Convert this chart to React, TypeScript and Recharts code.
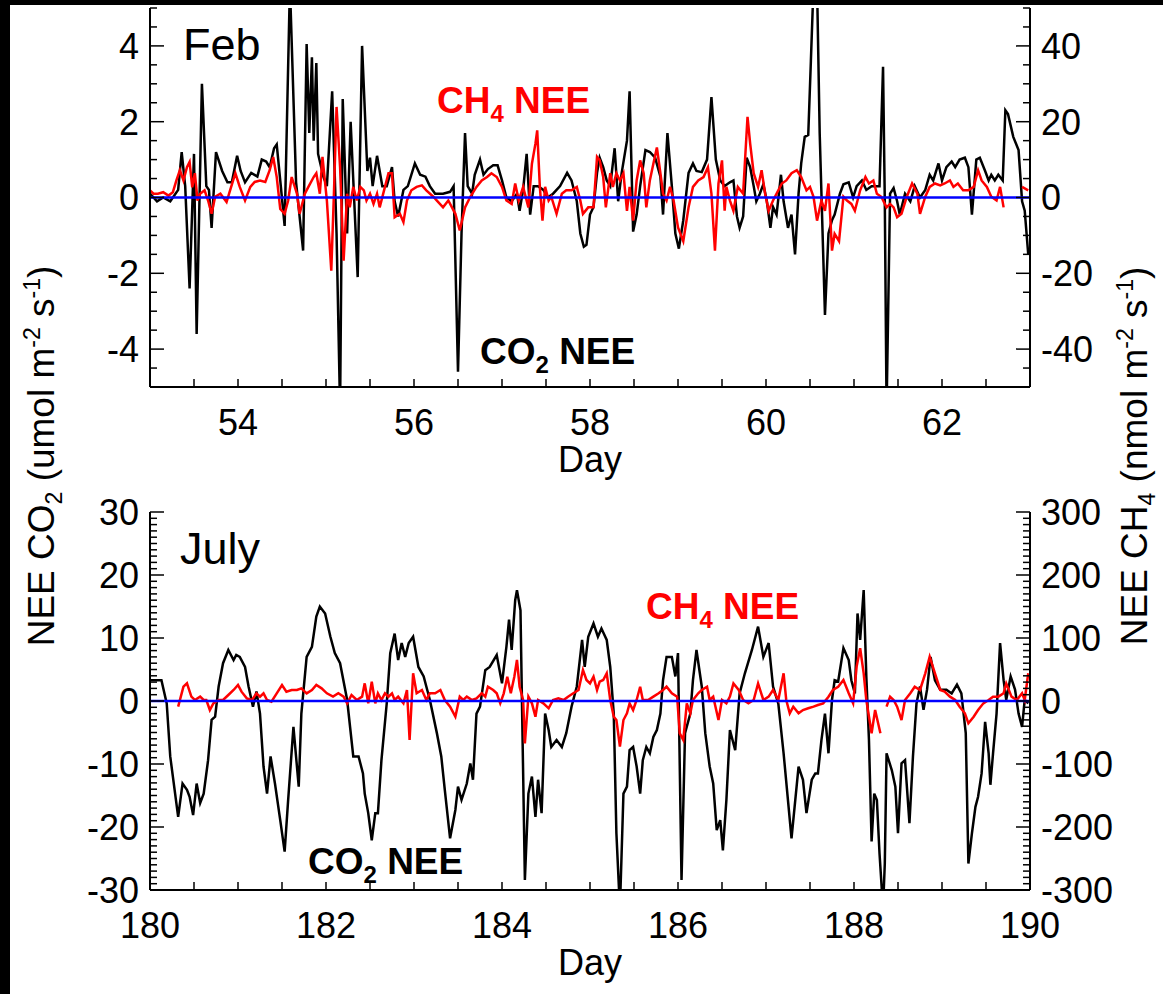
import { LineChart, Line, XAxis, YAxis, ReferenceLine, Label } from 'recharts'

type Pt = [number, number | null]

// tick labels
const febDayLabels = [54, 56, 58, 60, 62]
const julDayLabels = [180, 182, 184, 186, 188, 190]
const febCo2Labels = [-4, -2, 0, 2, 4]
const febCh4Labels = [-40, -20, 0, 20, 40]
const julCo2Labels = [-30, -20, -10, 0, 10, 20, 30]
const julCh4Labels = [-300, -200, -100, 0, 100, 200, 300]

// Feb — CO2 NEE (umol m-2 s-1), [day, value]
const febCo2: Pt[] = [
  [53.0, 0.1], [53.08, -0.1], [53.15, 0.0], [53.23, -0.1], [53.32, 0.2], [53.36, 1.2], [53.4, 0.3], [53.45, -2.4],
  [53.5, 1.15], [53.53, -3.6], [53.59, 3.0], [53.64, 0.3], [53.67, 0.2], [53.7, -0.8], [53.75, 1.2], [53.82, 0.7],
  [53.88, 0.4], [53.93, 0.4], [53.99, 1.1], [54.03, 0.7], [54.08, 0.4], [54.15, 0.65], [54.22, 0.55], [54.27, 1.0],
  [54.32, 0.95], [54.36, 0.8], [54.41, 1.3], [54.44, 1.4], [54.48, 0.45], [54.53, -0.75], [54.59, 5.6], [54.66, 0.4],
  [54.74, -1.4], [54.78, 4.05], [54.81, 1.7], [54.84, 3.7], [54.86, 1.5], [54.89, 3.55], [54.91, 1.15], [54.97, 0.55],
  [55.01, 0.3], [55.07, 2.8], [55.12, -0.95], [55.16, -5.6], [55.19, 2.6], [55.24, -0.95], [55.28, 2.0], [55.36, -2.1],
  [55.41, 4.0], [55.47, 0.7], [55.5, 1.05], [55.53, 0.3], [55.58, 1.1], [55.64, 0.3], [55.69, 0.3], [55.75, 0.8],
  [55.78, -0.1], [55.82, -0.5], [55.88, 0.2], [55.93, 0.3], [56.01, 0.9], [56.07, 0.6], [56.13, 0.55], [56.18, 0.3],
  [56.24, 0.1], [56.33, 0.1], [56.41, 0.15], [56.45, 0.3], [56.5, -4.6], [56.54, -0.95], [56.58, 1.7], [56.61, 0.3],
  [56.66, 0.1], [56.69, 0.6], [56.75, 1.0], [56.79, 0.6], [56.84, 0.75], [56.9, 0.85], [56.95, 0.85], [57.0, 0.45],
  [57.05, 0.0], [57.11, -0.1], [57.17, 0.1], [57.2, -0.35], [57.24, 0.2], [57.28, 1.15], [57.32, -0.45], [57.36, 0.3],
  [57.41, 0.3], [57.47, 0.2], [57.52, 0.0], [57.58, 0.1], [57.66, 0.3], [57.74, 0.65], [57.79, 0.45], [57.85, -0.1],
  [57.89, -0.95], [57.93, -1.3], [57.96, -1.25], [58.0, -0.45], [58.04, -0.25], [58.08, 0.65], [58.11, 1.05], [58.15, 0.8],
  [58.19, 0.45], [58.23, 0.3], [58.28, 1.3], [58.32, -0.1], [58.36, 0.65], [58.42, 1.5], [58.45, 2.8], [58.49, -0.9],
  [58.53, -0.45], [58.57, 0.3], [58.63, 1.25], [58.68, 1.2], [58.74, 1.05], [58.8, 0.55], [58.83, -0.45], [58.88, 1.7],
  [58.93, 0.3], [58.97, -0.95], [59.01, -1.35], [59.06, -0.6], [59.12, 0.65], [59.17, 0.9], [59.21, 0.7], [59.27, 0.67],
  [59.33, 1.0], [59.38, 2.65], [59.43, 1.0], [59.48, 0.45], [59.53, 0.3], [59.59, 0.4], [59.63, 0.45], [59.67, -0.5],
  [59.7, -0.8], [59.74, -0.5], [59.78, 1.05], [59.82, 0.8], [59.86, 0.3], [59.89, -0.1], [59.93, 0.1], [59.97, 0.35],
  [60.01, -0.1], [60.05, -0.8], [60.08, -0.25], [60.12, -0.45], [60.17, 0.6], [60.2, -0.1], [60.25, -0.8], [60.29, -0.45],
  [60.33, -1.5], [60.37, 0.1], [60.4, 0.9], [60.44, 1.6], [60.48, 1.65], [60.51, 3.6], [60.54, 5.6], [60.58, 5.6],
  [60.61, 1.7], [60.67, -3.1], [60.71, -0.95], [60.75, -0.6], [60.78, -0.45], [60.84, 0.1], [60.88, 0.35], [60.94, 0.4],
  [60.99, 0.0], [61.03, 0.3], [61.09, 0.45], [61.14, 0.2], [61.2, 0.3], [61.26, 0.3], [61.29, 0.3], [61.33, 3.45],
  [61.35, -0.1], [61.37, -5.6], [61.41, 0.1], [61.45, 0.25], [61.49, -0.1], [61.52, -0.45], [61.58, 0.1], [61.64, -0.1],
  [61.69, 0.3], [61.75, 0.0], [61.81, 0.2], [61.86, 0.6], [61.9, 0.45], [61.96, 0.9], [62.0, 0.45], [62.05, 0.8],
  [62.11, 0.95], [62.15, 0.8], [62.2, 1.0], [62.26, 1.05], [62.3, 0.8], [62.34, -0.45], [62.39, 1.0], [62.43, 1.05],
  [62.49, 0.7], [62.53, 0.45], [62.56, 0.6], [62.6, 0.45], [62.64, 0.6], [62.69, 0.45], [62.72, 2.3], [62.75, 2.2],
  [62.81, 1.6], [62.87, 1.25], [62.91, -0.1], [62.94, -0.35], [62.98, -1.5],
]

// Feb — CH4 NEE (nmol m-2 s-1)
const febCh4: Pt[] = [
  [53.0, 1.9], [53.04, 1.0], [53.09, 1.0], [53.15, 1.4], [53.21, 0.5], [53.26, 1.4], [53.3, 4.5], [53.34, 7.2],
  [53.38, 4.5], [53.42, 8.0], [53.45, 9.4], [53.48, 2.7], [53.51, 6.4], [53.54, -0.8], [53.57, 1.0], [53.62, 1.9],
  [53.66, -0.8], [53.7, -4.3], [53.74, 0.2], [53.8, 1.0], [53.87, -1.2], [53.91, 1.9], [53.97, 6.4], [54.02, 2.8],
  [54.08, -0.8], [54.14, 2.8], [54.19, 4.1], [54.25, 4.5], [54.31, 4.1], [54.36, 7.2], [54.4, 10.7], [54.44, 5.4],
  [54.48, -3.0], [54.53, -4.3], [54.57, -0.8], [54.61, 5.4], [54.67, 1.0], [54.7, -4.3], [54.76, 1.0], [54.8, 2.8],
  [54.86, 5.4], [54.89, 6.4], [54.93, 1.0], [54.96, 10.7], [55.01, -0.8], [55.06, -19.3], [55.09, 1.0], [55.12, 23.9],
  [55.16, 8.0], [55.2, -16.7], [55.24, 1.0], [55.27, -2.6], [55.31, 2.8], [55.35, -0.8], [55.39, 2.8], [55.43, 1.9],
  [55.46, -0.8], [55.5, 1.0], [55.54, -1.7], [55.58, 1.0], [55.61, -2.6], [55.67, 2.8], [55.71, 6.4], [55.75, 6.4],
  [55.78, -5.2], [55.84, -4.3], [55.88, -6.5], [55.92, -0.8], [55.97, 1.9], [56.03, 2.8], [56.09, 3.2], [56.14, 1.9],
  [56.22, 0.2], [56.26, -0.8], [56.33, -2.6], [56.39, -0.8], [56.47, -4.3], [56.52, -8.7], [56.58, -2.6], [56.64, 0.2],
  [56.71, 2.8], [56.77, 4.5], [56.83, 5.4], [56.88, 6.4], [56.94, 5.4], [57.0, 2.8], [57.05, -0.8], [57.11, -1.7],
  [57.15, 3.7], [57.19, -0.8], [57.24, 2.8], [57.3, -2.6], [57.34, 8.9], [57.38, 14.2], [57.4, 17.7], [57.43, 2.8],
  [57.46, -6.1], [57.49, 2.8], [57.53, -0.8], [57.56, 0.2], [57.62, -4.3], [57.68, 1.0], [57.73, 1.9], [57.79, 1.9],
  [57.85, 2.8], [57.89, -0.8], [57.92, -4.3], [57.98, -2.6], [58.04, -2.6], [58.08, 10.7], [58.11, 9.8], [58.15, 5.4],
  [58.18, -2.6], [58.23, 6.4], [58.26, 2.8], [58.3, 6.4], [58.34, 4.5], [58.38, 6.4], [58.42, -3.5], [58.45, 2.8],
  [58.49, -6.1], [58.53, 4.5], [58.57, 9.8], [58.61, 6.4], [58.64, -2.6], [58.68, 4.5], [58.72, 8.9], [58.76, 13.2],
  [58.8, 6.4], [58.83, 1.0], [58.87, -0.8], [58.91, 2.8], [58.95, -0.8], [59.0, -7.9], [59.06, -11.5], [59.12, -2.6],
  [59.17, 2.8], [59.23, 4.5], [59.29, 5.4], [59.34, 8.0], [59.38, 1.0], [59.42, -14.0], [59.46, 3.7], [59.5, 9.8],
  [59.53, -3.5], [59.55, 2.8], [59.59, -0.8], [59.63, -3.5], [59.68, 2.8], [59.74, 1.0], [59.79, 21.3], [59.82, 14.2],
  [59.86, 6.4], [59.91, 2.8], [59.95, 7.2], [59.99, 1.0], [60.03, -3.5], [60.08, -0.8], [60.14, 1.9], [60.18, 3.7],
  [60.23, 4.5], [60.29, 6.4], [60.35, 7.2], [60.4, 5.4], [60.46, 1.9], [60.5, 2.8], [60.54, 0.2], [60.58, -6.1],
  [60.63, -0.8], [60.67, -3.5], [60.71, 3.7], [60.75, -14.0], [60.78, -9.6], [60.83, -11.5], [60.88, 0.2], [60.92, -0.8],
  [60.97, -1.7], [61.01, -3.5], [61.07, 1.9], [61.13, 5.4], [61.17, 3.7], [61.22, 4.5], [61.26, 1.0], [61.31, 0.2],
  [61.37, -2.6], [61.41, -1.7], [61.45, -2.6], [61.49, -5.2], [61.54, -4.3], [61.6, 0.2], [61.66, 3.7], [61.72, 1.0],
  [61.75, -4.3], [61.81, 0.2], [61.86, 2.8], [61.92, 3.7], [61.98, 3.2], [62.03, 3.7], [62.09, 4.5], [62.13, 2.8],
  [62.18, 3.7], [62.24, 1.9], [62.3, 1.9], [62.36, 2.8], [62.41, 7.2], [62.45, 4.5], [62.51, 2.8], [62.56, 0.2],
  [62.62, -0.8], [62.66, 2.8], [62.7, -2.6], [62.8, null], [62.91, 2.8], [62.98, 1.9],
]

// July — CO2 NEE (umol m-2 s-1)
const julCo2: Pt[] = [
  [180.0, 3.3], [180.13, 3.3], [180.19, -0.4], [180.23, -8.8], [180.26, -12.0], [180.32, -18.4], [180.37, -13.1], [180.42, -14.1],
  [180.45, -15.2], [180.49, -18.1], [180.53, -13.1], [180.57, -16.2], [180.61, -14.7], [180.66, -9.4], [180.7, -3.0], [180.74, -2.5],
  [180.78, 2.3], [180.83, 6.0], [180.89, 8.1], [180.95, 6.5], [180.98, 7.3], [181.02, 7.0], [181.08, 5.4], [181.12, 2.3],
  [181.17, -0.9], [181.21, 1.5], [181.25, -2.0], [181.29, -10.4], [181.33, -14.7], [181.37, -8.8], [181.42, -13.1], [181.48, -18.9],
  [181.53, -23.9], [181.57, -15.7], [181.63, -4.1], [181.69, -13.6], [181.72, -2.0], [181.78, 7.0], [181.84, 8.6], [181.89, 13.4],
  [181.93, 15.0], [181.99, 13.9], [182.05, 10.2], [182.1, 7.6], [182.16, 6.0], [182.24, 0.2], [182.31, -8.8], [182.37, -8.8],
  [182.42, -11.5], [182.44, -14.7], [182.48, -17.8], [182.52, -22.1], [182.56, -17.8], [182.59, -17.8], [182.63, -9.4], [182.69, -0.4],
  [182.73, 7.6], [182.78, 10.7], [182.82, 6.5], [182.86, 9.2], [182.9, 7.0], [182.94, 9.2], [182.99, 10.2], [183.05, 5.4],
  [183.11, 3.9], [183.14, 2.3], [183.18, 0.2], [183.26, -5.1], [183.31, -8.8], [183.35, -14.1], [183.41, -21.8], [183.47, -17.3],
  [183.5, -13.6], [183.54, -15.7], [183.6, -13.1], [183.64, -9.9], [183.67, -12.5], [183.71, -2.0], [183.75, -0.9], [183.81, 4.9],
  [183.86, 5.4], [183.94, 7.3], [184.0, 2.8], [184.05, 8.6], [184.08, 12.9], [184.11, 8.1], [184.15, 16.0], [184.17, 17.6],
  [184.21, 14.4], [184.26, -28.4], [184.3, -14.7], [184.34, -12.0], [184.38, -18.4], [184.41, -12.5], [184.45, -17.8], [184.49, -2.0],
  [184.53, -4.6], [184.56, -7.3], [184.62, -6.2], [184.68, -7.3], [184.73, -5.1], [184.79, -0.9], [184.85, 2.3], [184.91, 9.7],
  [184.94, 5.4], [184.98, 10.2], [185.04, 12.3], [185.09, 10.2], [185.13, 11.5], [185.19, 9.7], [185.23, 5.4], [185.27, -2.0],
  [185.3, -21.0], [185.34, -33.0], [185.38, -14.7], [185.42, -13.6], [185.45, -7.8], [185.49, -7.3], [185.53, -10.4], [185.57, -14.7],
  [185.6, -9.4], [185.64, -7.3], [185.68, -8.3], [185.72, -5.7], [185.76, -4.6], [185.8, -2.0], [185.83, 3.3], [185.87, 7.0],
  [185.93, 7.0], [185.97, 3.9], [186.0, 7.6], [186.04, -28.4], [186.08, -5.1], [186.14, -2.0], [186.17, 3.3], [186.21, 8.1],
  [186.27, 2.3], [186.31, -5.1], [186.36, -10.4], [186.4, -13.1], [186.44, -20.5], [186.48, -18.9], [186.51, -23.7], [186.55, -15.7],
  [186.59, -4.6], [186.65, -7.8], [186.7, 1.2], [186.76, 4.4], [186.84, 8.1], [186.91, 11.8], [186.97, 7.0], [187.03, 9.2],
  [187.08, 2.3], [187.14, -0.4], [187.2, -8.3], [187.29, -21.8], [187.37, -10.4], [187.42, -12.5], [187.46, -17.8], [187.52, -12.5],
  [187.56, -11.5], [187.59, -11.5], [187.63, -6.2], [187.67, -2.0], [187.71, -8.3], [187.75, 0.2], [187.78, 3.3], [187.82, 3.1],
  [187.88, 8.4], [187.94, 6.5], [187.97, 3.3], [188.01, 1.2], [188.04, 13.9], [188.07, 9.7], [188.11, 17.6], [188.14, 3.9],
  [188.17, -6.2], [188.2, -22.3], [188.23, -14.7], [188.26, -15.7], [188.29, -24.2], [188.33, -33.0], [188.35, -25.8], [188.37, -8.3],
  [188.43, -11.0], [188.47, -13.6], [188.5, -21.0], [188.54, -9.9], [188.58, -9.4], [188.63, -19.4], [188.67, -8.8], [188.71, -0.4],
  [188.75, 2.3], [188.79, -1.4], [188.83, 1.8], [188.87, 7.0], [188.92, 3.3], [188.98, 1.8], [189.05, 1.8], [189.11, 1.2],
  [189.17, 2.6], [189.22, 1.2], [189.27, -5.1], [189.3, -25.8], [189.34, -21.0], [189.38, -16.8], [189.41, -15.2], [189.45, -11.5],
  [189.49, -3.3], [189.53, -8.3], [189.55, -13.3], [189.58, -8.3], [189.62, -2.0], [189.66, 9.2], [189.7, 3.3], [189.73, 0.2],
  [189.78, 3.9], [189.83, 1.8], [189.87, -2.0], [189.91, -4.1], [189.94, 0.2], [189.98, -0.4],
]

// July — CH4 NEE (nmol m-2 s-1)
const julCh4: Pt[] = [
  [180.32, -9.0], [180.38, 22.7], [180.42, 28.0], [180.47, 6.9], [180.51, 1.6], [180.57, 6.9], [180.61, 1.6], [180.64, 1.6],
  [180.68, -14.3], [180.72, -3.7], [180.78, 1.6], [180.83, 1.6], [180.89, 9.5], [180.95, 17.5], [181.0, 25.4], [181.04, 14.8],
  [181.1, 4.2], [181.16, 1.6], [181.21, 12.2], [181.25, 6.9], [181.29, 12.2], [181.33, 1.6], [181.38, -1.1], [181.44, 12.2],
  [181.5, 25.4], [181.55, 14.8], [181.61, 17.5], [181.67, 17.5], [181.72, 20.1], [181.78, 12.2], [181.84, 17.5], [181.89, 25.4],
  [181.95, 20.1], [182.01, 12.2], [182.08, 6.9], [182.14, 12.2], [182.2, 6.9], [182.24, -3.7], [182.29, 9.5], [182.35, 1.6],
  [182.41, 6.9], [182.44, 28.0], [182.48, -3.7], [182.52, 30.7], [182.56, -3.7], [182.59, 12.2], [182.63, 1.6], [182.67, 12.2],
  [182.71, 6.9], [182.75, 12.2], [182.78, 1.6], [182.82, 6.9], [182.88, -3.7], [182.92, 17.5], [182.95, -61.9], [182.99, 44.0],
  [183.03, 12.2], [183.09, 17.5], [183.14, 1.6], [183.18, 12.2], [183.24, 12.2], [183.3, 17.5], [183.35, 1.6], [183.41, -9.0],
  [183.47, -24.9], [183.52, 6.9], [183.56, 1.6], [183.6, 6.9], [183.66, 1.6], [183.71, 4.2], [183.77, 12.2], [183.81, 6.9],
  [183.84, 22.7], [183.9, 17.5], [183.94, 12.2], [183.98, -3.7], [184.02, 12.2], [184.06, 38.6], [184.1, 12.2], [184.14, 38.6],
  [184.17, 65.1], [184.2, 22.7], [184.24, 1.6], [184.26, -67.2], [184.3, 6.9], [184.34, -3.7], [184.38, -24.9], [184.41, 1.6],
  [184.47, -3.7], [184.53, -11.6], [184.58, 1.6], [184.64, 4.2], [184.7, 1.6], [184.75, 6.9], [184.81, 12.2], [184.87, 17.5],
  [184.92, 49.3], [184.96, 33.4], [185.0, 28.0], [185.04, 38.6], [185.08, 17.5], [185.11, 30.7], [185.15, 33.4], [185.19, 44.0],
  [185.23, 1.6], [185.27, -24.9], [185.3, -30.2], [185.34, -72.5], [185.38, -30.2], [185.42, -19.6], [185.45, -3.7], [185.49, -14.3],
  [185.53, 1.6], [185.57, 22.7], [185.6, 1.6], [185.66, 1.6], [185.72, 6.9], [185.78, 12.2], [185.83, 17.5], [185.87, 22.7],
  [185.93, 12.2], [185.99, 6.9], [186.02, -51.3], [186.06, -61.9], [186.1, -3.7], [186.14, -19.6], [186.17, 1.6], [186.23, 12.2],
  [186.27, 17.5], [186.33, 22.7], [186.36, 1.6], [186.4, 6.9], [186.46, -30.2], [186.5, 1.6], [186.55, -3.7], [186.59, 6.9],
  [186.63, 28.0], [186.69, 17.5], [186.74, 1.6], [186.8, -3.7], [186.86, 1.6], [186.91, 28.0], [186.97, 1.6], [187.03, 6.9],
  [187.08, 17.5], [187.14, 1.6], [187.2, 44.0], [187.23, 1.6], [187.27, -19.6], [187.31, -9.0], [187.37, -19.6], [187.42, -14.3],
  [187.48, -11.6], [187.54, -9.0], [187.59, -6.3], [187.65, -3.7], [187.71, 6.9], [187.76, 17.5], [187.82, 22.7], [187.88, 33.4],
  [187.94, 12.2], [187.99, -3.7], [188.03, 54.6], [188.07, 83.7], [188.11, 44.0], [188.14, 1.6], [188.2, -51.3], [188.24, -14.3],
  [188.3, -51.3], [188.33, null], [188.37, -9.0], [188.41, 6.9], [188.45, 1.6], [188.49, -9.0], [188.54, -30.2], [188.58, 1.6],
  [188.64, 12.2], [188.69, 22.7], [188.75, 17.5], [188.81, 44.0], [188.86, 70.4], [188.92, 44.0], [188.98, 17.5], [189.03, 14.8],
  [189.09, 6.9], [189.15, 1.6], [189.2, -9.0], [189.26, -19.6], [189.3, -35.4], [189.36, -24.9], [189.41, -14.3], [189.47, -3.7],
  [189.53, 1.6], [189.58, 6.9], [189.64, 6.9], [189.7, 12.2], [189.73, 28.0], [189.79, 6.9], [189.85, 1.6], [189.91, 12.2],
  [189.94, 1.6], [189.98, 44.0],
]

const FONT = 36
const FAMILY = '"Liberation Sans", Arial, Helvetica, sans-serif'

const steps = (lo: number, hi: number, step: number) => {
  const out: number[] = []
  for (let v = lo; v <= hi + 1e-9; v += step) out.push(Math.round(v * 1000) / 1000)
  return out
}
const toRows = (pts: Pt[]) => pts.map(([d, v]) => ({ d, v }))
const has = (list: number[], v: number) => list.some(l => Math.abs(l - v) < 1e-6)

function yTick(side: 'left' | 'right', labels: number[]) {
  return (p: any) => {
    const v = p.payload.value
    const major = has(labels, v)
    const dir = side === 'left' ? 1 : -1
    return (
      <g>
        <line x1={p.x} y1={p.y} x2={p.x + dir * (major ? 14 : 7)} y2={p.y} stroke="#000" strokeWidth={1.5} />
        {major && (
          <text x={p.x - dir * 11} y={p.y} dy="0.36em" textAnchor={side === 'left' ? 'end' : 'start'} fontSize={FONT} fill="#000">
            {v}
          </text>
        )}
      </g>
    )
  }
}

function xTick(side: 'top' | 'bottom', labels: number[]) {
  return (p: any) => {
    const v = p.payload.value
    const dir = side === 'bottom' ? -1 : 1
    return (
      <g>
        <line x1={p.x} y1={p.y} x2={p.x} y2={p.y + dir * 8} stroke="#000" strokeWidth={1.5} />
        {side === 'bottom' && has(labels, v) && (
          <text x={p.x} y={p.y + 48} textAnchor="middle" fontSize={FONT} fill="#000">{v}</text>
        )}
      </g>
    )
  }
}

type PanelProps = {
  height: number
  marginTop: number
  xAxisHeight: number
  dayDomain: [number, number]
  dayLabels: number[]
  co2: Pt[]
  ch4: Pt[]
  co2Domain: [number, number]
  co2Labels: number[]
  co2Step: number
  ch4Domain: [number, number]
  ch4Labels: number[]
  ch4Step: number
}

function Panel(p: PanelProps) {
  const dayTicks = steps(p.dayDomain[0], p.dayDomain[1], 0.5)
  const frame = { stroke: '#000', strokeWidth: 2 }
  return (
    <LineChart width={1163} height={p.height} margin={{ top: p.marginTop, right: 0, bottom: 0, left: 0 }}>
      <XAxis xAxisId="b" dataKey="d" type="number" domain={p.dayDomain} allowDataOverflow ticks={dayTicks} interval={0}
        height={p.xAxisHeight} tickSize={0} tickMargin={0} tickLine={false} axisLine={frame} tick={xTick('bottom', p.dayLabels)}>
        <Label value="Day" position="insideBottom" offset={p.xAxisHeight - 85} fontSize={FONT} fill="#000" />
      </XAxis>
      <XAxis xAxisId="t" orientation="top" dataKey="d" type="number" domain={p.dayDomain} allowDataOverflow ticks={dayTicks}
        interval={0} height={0} tickSize={0} tickMargin={0} tickLine={false} axisLine={frame} tick={xTick('top', p.dayLabels)} />
      <YAxis yAxisId="co2" type="number" domain={p.co2Domain} allowDataOverflow width={150} interval={0}
        ticks={steps(p.co2Domain[0], p.co2Domain[1], p.co2Step)} tickSize={0} tickMargin={0} tickLine={false} axisLine={frame}
        tick={yTick('left', p.co2Labels)} />
      <YAxis yAxisId="ch4" orientation="right" type="number" domain={p.ch4Domain} allowDataOverflow width={133} interval={0}
        ticks={steps(p.ch4Domain[0], p.ch4Domain[1], p.ch4Step)} tickSize={0} tickMargin={0} tickLine={false} axisLine={frame}
        tick={yTick('right', p.ch4Labels)} />
      <Line xAxisId="b" yAxisId="co2" data={toRows(p.co2)} dataKey="v" type="linear" stroke="#000" strokeWidth={2.5}
        dot={false} isAnimationActive={false} />
      <Line xAxisId="b" yAxisId="ch4" data={toRows(p.ch4)} dataKey="v" type="linear" stroke="#ff0000" strokeWidth={2.5}
        dot={false} isAnimationActive={false} />
      <ReferenceLine xAxisId="b" yAxisId="co2" y={0} stroke="#0000ff" strokeWidth={2.5} />
    </LineChart>
  )
}

function NeeTag({ x, y, fill, gas, sub }: { x: number; y: number; fill: string; gas: string; sub: string }) {
  return (
    <text x={x} y={y} fill={fill} fontSize={37} fontWeight="bold">
      {gas}
      <tspan dy={9} fontSize={24}>{sub}</tspan>
      <tspan dy={-9}> NEE</tspan>
    </text>
  )
}

function AxisTitle({ cx, cy, gas, unit }: { cx: number; cy: number; gas: string; unit: string }) {
  return (
    <text transform="rotate(-90)" x={-cy} y={cx} textAnchor="middle" fontSize={37} fill="#000">
      NEE {gas.slice(0, -1)}
      <tspan dy={8} fontSize={23}>{gas.slice(-1)}</tspan>
      <tspan dy={-8}> ({unit} m</tspan>
      <tspan dy={-14} fontSize={23}>-2</tspan>
      <tspan dy={14}> s</tspan>
      <tspan dy={-14} fontSize={23}>-1</tspan>
      <tspan dy={14}>)</tspan>
    </text>
  )
}

export default function App() {
  return (
    <div style={{ position: 'fixed', left: 0, top: 0, width: 1163, height: 994, background: '#000', fontFamily: FAMILY }}>
      <div style={{ position: 'absolute', left: 10, top: 5, right: 0, bottom: 0, background: '#fff' }} />
      <div style={{ position: 'absolute', left: 0, top: 0 }}>
        <Panel height={490} marginTop={8} xAxisHeight={103} dayDomain={[53, 63]} dayLabels={febDayLabels}
          co2={febCo2} ch4={febCh4} co2Domain={[-5, 5]} co2Labels={febCo2Labels} co2Step={0.5}
          ch4Domain={[-50, 50]} ch4Labels={febCh4Labels} ch4Step={5} />
      </div>
      <div style={{ position: 'absolute', left: 0, top: 470 }}>
        <Panel height={524} marginTop={42} xAxisHeight={104} dayDomain={[180, 190]} dayLabels={julDayLabels}
          co2={julCo2} ch4={julCh4} co2Domain={[-30, 30]} co2Labels={julCo2Labels} co2Step={1}
          ch4Domain={[-300, 300]} ch4Labels={julCh4Labels} ch4Step={10} />
      </div>
      <svg width={1163} height={994} style={{ position: 'absolute', left: 0, top: 0, pointerEvents: 'none' }}>
        <text x={183} y={60} fontSize={45} fill="#000">Feb</text>
        <text x={180} y={564} fontSize={45} fill="#000">July</text>
        <NeeTag x={437} y={113} fill="#ff0000" gas="CH" sub="4" />
        <NeeTag x={480} y={364} fill="#000" gas="CO" sub="2" />
        <NeeTag x={646} y={619} fill="#ff0000" gas="CH" sub="4" />
        <NeeTag x={308} y={874} fill="#000" gas="CO" sub="2" />
        <AxisTitle cx={54} cy={456} gas="CO2" unit="umol" />
        <AxisTitle cx={1147} cy={456} gas="CH4" unit="nmol" />
      </svg>
    </div>
  )
}
